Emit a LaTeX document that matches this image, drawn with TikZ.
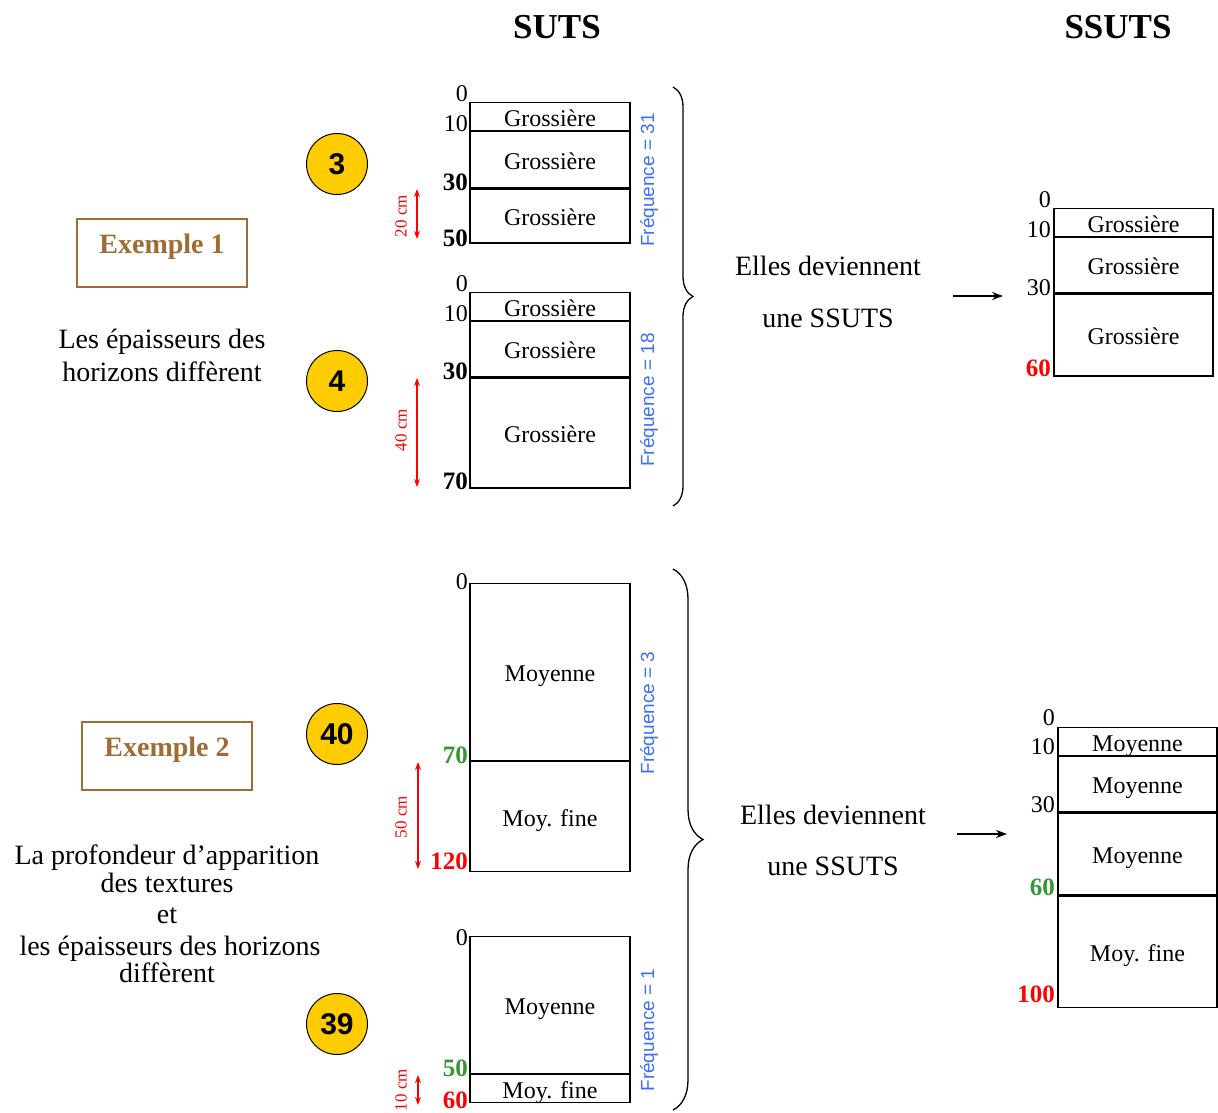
\documentclass[tikz,border=0pt]{standalone}
\usepackage{fontspec}
\setmainfont{Liberation Serif}
\newfontfamily\sansf{Liberation Sans}
\usetikzlibrary{arrows.meta,decorations.pathreplacing}
\definecolor{brn}{RGB}{158,108,52}
\definecolor{gld}{RGB}{255,204,0}
\definecolor{blu}{RGB}{60,110,255}
\definecolor{grn}{RGB}{52,150,52}
\definecolor{rd}{RGB}{255,0,0}
\tikzset{
 layer/.style={draw, line width=1.2pt, minimum width=160pt, inner sep=0pt, anchor=north,
   font=\fontsize{24}{28}\selectfont, text height=19pt, text depth=0pt},
 dlab/.style={anchor=east, inner sep=0pt, font=\fontsize{24}{28}\selectfont},
 dlabb/.style={anchor=east, inner sep=0pt, font=\fontsize{25}{28}\selectfont\bfseries},
 num/.style={circle, draw, fill=gld, line width=1pt, minimum size=61pt, inner sep=0pt,
   font=\sansf\bfseries\fontsize{30}{30}\selectfont},
 freq/.style={rotate=90, text=blu, font=\sansf\fontsize{19}{22}\selectfont, inner sep=0pt},
 cmlab/.style={rotate=90, text=rd, font=\fontsize{17}{18}\selectfont, inner sep=0pt},
 cmarr/.style={draw=rd, line width=1.2pt, {Stealth[length=8pt,width=6pt]}-{Stealth[length=8pt,width=6pt]}},
 exbox/.style={draw=brn, line width=1.3pt, minimum width=170pt, minimum height=68pt, text=brn,
   font=\fontsize{28}{32}\selectfont\bfseries, text height=7pt, text depth=7pt},
 body/.style={font=\fontsize{28}{30}\selectfont, inner sep=0pt, text height=19pt, text depth=0pt},
 ttl/.style={font=\fontsize{35}{40}\selectfont\bfseries},
 bigarr/.style={line width=1.5pt, -{Stealth[length=11pt,width=8pt]}},
 brc/.style={decorate, line width=1.3pt}
}
\begin{document}
\begin{tikzpicture}[x=1pt,y=-1pt]
\useasboundingbox (0,0) rectangle (1218,1113);
% titles
\node[ttl] (tsuts) at (557,27) {SUTS};
\node[ttl] (tssuts) at (1118,27) {SSUTS};

% ===== Exemple 1 =====
\node[exbox] (ex1) at (162,253) {Exemple 1};
\node[body] (ex1a) at (162,339) {Les épaisseurs des};
\node[body] (ex1b) at (162,372) {horizons diffèrent};
\node[num] (c3) at (337,164) {3};
\node[num] (c4) at (337,381) {4};

% SUTS 3
\node[layer, minimum height=28pt] (s3a) at (550,102) {Grossière};
\node[layer, minimum height=56pt] (s3b) at (s3a.south) {Grossière};
\node[layer, minimum height=54pt] (s3c) at (s3b.south) {Grossière};
\node[dlab] (l3a) at (468,94) {0};
\node[dlab] (l3b) at (468,124) {10};
\node[dlabb] (l3c) at (468,182) {30};
\node[dlabb] (l3d) at (468,238) {50};
\coordinate (r3t) at (417,189); \coordinate (r3b) at (417,239);
\draw[cmarr] (r3t) -- (r3b);
\node[cmlab] (cm3) at (401,216) {20 cm};
\node[freq] (f3) at (649,180) {Fréquence = 31};

% SUTS 4
\node[layer, minimum height=28pt] (s4a) at (550,292) {Grossière};
\node[layer, minimum height=55pt] (s4b) at (s4a.south) {Grossière};
\node[layer, minimum height=110pt] (s4c) at (s4b.south) {Grossière};
\node[dlab] (l4a) at (468,284) {0};
\node[dlab] (l4b) at (468,314) {10};
\node[dlabb] (l4c) at (468,371) {30};
\node[dlabb] (l4d) at (468,481) {70};
\coordinate (r4t) at (417,378); \coordinate (r4b) at (417,487);
\draw[cmarr] (r4t) -- (r4b);
\node[cmlab] (cm4) at (401,430) {40 cm};
\node[freq] (f4) at (649,400) {Fréquence = 18};

% brace 1
\coordinate (b1t) at (673,87); \coordinate (b1b) at (673,506);
\draw[brc, decoration={brace, amplitude=20pt}] (b1t) -- (b1b);
\node[body] (el1) at (828,266) {Elles deviennent};
\node[body] (un1) at (828,318) {une SSUTS};
\coordinate (a1s) at (953,296); \coordinate (a1e) at (1003,296);
\draw[bigarr] (a1s) -- (a1e);

% SSUTS 1
\node[layer, minimum width=159pt, minimum height=28pt] (t1a) at (1133.5,208) {Grossière};
\node[layer, minimum width=159pt, minimum height=55pt] (t1b) at (t1a.south) {Grossière};
\node[layer, minimum width=159pt, minimum height=82pt] (t1c) at (t1b.south) {Grossière};
\node[dlab] (m1a) at (1051,200) {0};
\node[dlab] (m1b) at (1051,230) {10};
\node[dlab] (m1c) at (1051,288) {30};
\node[dlabb, text=rd] (m1d) at (1051,368) {60};

% ===== Exemple 2 =====
\node[exbox] (ex2) at (167,756) {Exemple 2};
\node[body] (ex2a) at (167,855) {La profondeur d’apparition};
\node[body] (ex2b) at (167,883) {des textures};
\node[body] (ex2c) at (167,914) {et};
\node[body] (ex2d) at (170,946) {les épaisseurs des horizons};
\node[body] (ex2e) at (167,973) {diffèrent};
\node[num] (c40) at (337,734) {40};
\node[num] (c39) at (337,1024) {39};

% SUTS 40
\node[layer, minimum height=177pt] (s40a) at (550,583) {Moyenne};
\node[layer, minimum height=110pt] (s40b) at (s40a.south) {Moy. fine};
\node[dlab] (l40a) at (468,582) {0};
\node[dlabb, text=grn] (l40b) at (468,755) {70};
\node[dlabb, text=rd] (l40c) at (468,861) {120};
\coordinate (r40t) at (418,762); \coordinate (r40b) at (418,869);
\draw[cmarr] (r40t) -- (r40b);
\node[cmlab] (cm40) at (401,817) {50 cm};
\node[freq] (f40) at (649,713) {Fréquence = 3};

% SUTS 39
\node[layer, minimum height=137pt] (s39a) at (550,936) {Moyenne};
\node[layer, minimum height=28pt] (s39b) at (s39a.south) {Moy. fine};
\node[dlab] (l39a) at (468,938) {0};
\node[dlabb, text=grn] (l39b) at (468,1068) {50};
\node[dlabb, text=rd] (l39c) at (468,1100) {60};
\coordinate (r39t) at (418,1075); \coordinate (r39b) at (418,1105);
\draw[cmarr] (r39t) -- (r39b);
\node[cmlab] (cm39) at (401,1090) {10 cm};
\node[freq] (f39) at (649,1030) {Fréquence = 1};

% brace 2
\coordinate (b2t) at (673,569); \coordinate (b2b) at (673,1110);
\draw[brc, decoration={brace, amplitude=30pt}] (b2t) -- (b2b);
\node[body] (el2) at (833,815) {Elles deviennent};
\node[body] (un2) at (833,866) {une SSUTS};
\coordinate (a2s) at (957,834); \coordinate (a2e) at (1007,834);
\draw[bigarr] (a2s) -- (a2e);

% SSUTS 2
\node[layer, minimum width=159pt, minimum height=28pt] (t2a) at (1137.5,727) {Moyenne};
\node[layer, minimum width=159pt, minimum height=55pt] (t2b) at (t2a.south) {Moyenne};
\node[layer, minimum width=159pt, minimum height=82pt] (t2c) at (t2b.south) {Moyenne};
\node[layer, minimum width=159pt, minimum height=111pt] (t2d) at (t2c.south) {Moy. fine};
\node[dlab] (m2a) at (1055,718) {0};
\node[dlab] (m2b) at (1055,747) {10};
\node[dlab] (m2c) at (1055,805) {30};
\node[dlabb, text=grn] (m2d) at (1055,887) {60};
\node[dlabb, text=rd] (m2e) at (1055,994) {100};
\end{tikzpicture}
\end{document}
